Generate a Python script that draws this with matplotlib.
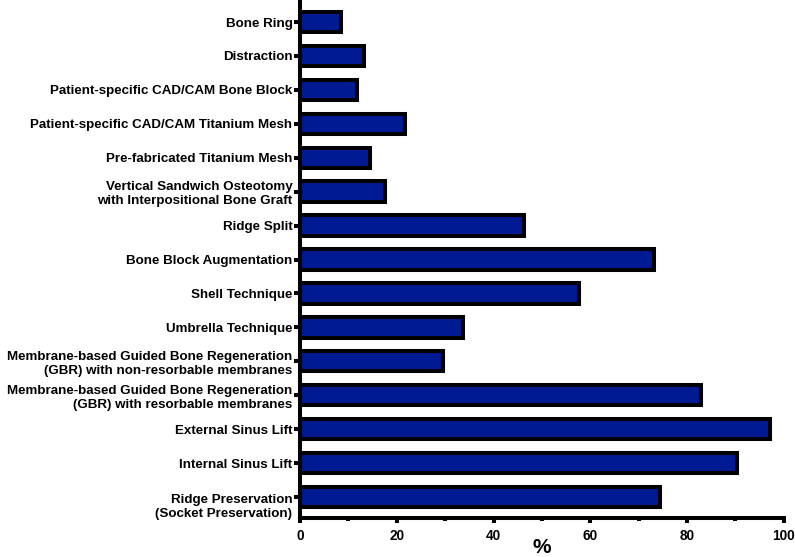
import matplotlib
matplotlib.use("Agg")
import matplotlib.pyplot as plt
from matplotlib.ticker import MultipleLocator
from matplotlib.transforms import ScaledTranslation

# top to bottom as shown in the chart
TECHNIQUES = [
    "Bone Ring",
    "Distraction",
    "Patient-specific CAD/CAM Bone Block",
    "Patient-specific CAD/CAM Titanium Mesh",
    "Pre-fabricated Titanium Mesh",
    "Vertical Sandwich Osteotomy\nwith Interpositional Bone Graft",
    "Ridge Split",
    "Bone Block Augmentation",
    "Shell Technique",
    "Umbrella Technique",
    "Membrane-based Guided Bone Regeneration\n(GBR) with non-resorbable membranes",
    "Membrane-based Guided Bone Regeneration\n(GBR) with resorbable membranes",
    "External Sinus Lift",
    "Internal Sinus Lift",
    "Ridge Preservation\n(Socket Preservation)",
]
PERCENT = [8.4, 13.2, 11.8, 21.6, 14.5, 17.5, 46.2, 73.1, 57.6, 33.7,
           29.6, 82.8, 97.1, 90.3, 74.5]

BAR_COLOR = "#001a94"
LW = 2.9

plt.rcParams["font.family"] = ["Liberation Sans", "DejaVu Sans"]
plt.rcParams["font.weight"] = "bold"

fig = plt.figure(figsize=(7.95, 5.57), dpi=100)
ax = fig.add_axes([0.3774, 0.070, 0.6086, 0.930])

n = len(TECHNIQUES)
ypos = list(range(n - 1, -1, -1))
ax.barh(ypos, PERCENT, height=0.6, color=BAR_COLOR, edgecolor="black",
        linewidth=LW, zorder=2)

ax.set_xlim(0, 100)
ax.set_ylim(-0.62, n - 0.35)
ax.set_yticks(ypos)
ax.set_yticklabels(TECHNIQUES, fontsize=9.6, fontweight="bold")
ax.xaxis.set_major_locator(MultipleLocator(20))
ax.xaxis.set_minor_locator(MultipleLocator(10))
ax.tick_params(axis="x", which="major", length=3.6, width=LW, labelsize=9.8, pad=4)
ax.tick_params(axis="x", which="minor", length=2.2, width=LW)
ax.tick_params(axis="y", length=4.5, width=LW, pad=1)
for lbl in ax.get_xticklabels():
    lbl.set_fontweight("bold")

# GraphPad put the first line of this label on the tick
last = ax.get_yticklabels()[-1]
last.set_transform(last.get_transform() + ScaledTranslation(0, -0.08, fig.dpi_scale_trans))

ax.set_xlabel("%", fontsize=15, fontweight="bold", labelpad=-3)

for side in ["top", "right"]:
    ax.spines[side].set_visible(False)
for side in ["left", "bottom"]:
    ax.spines[side].set_linewidth(LW)

fig.savefig("out.png", dpi=100)
